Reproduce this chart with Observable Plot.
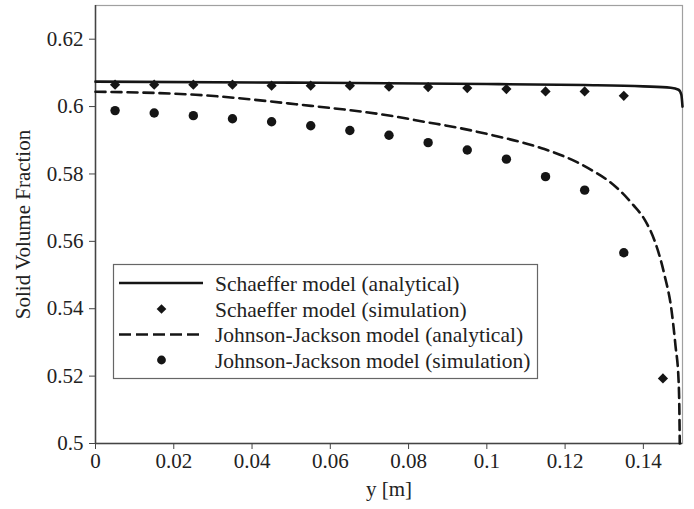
<!DOCTYPE html>
<html>
<head>
<meta charset="utf-8">
<script src="https://cdn.jsdelivr.net/npm/d3@7"></script>
<script src="https://cdn.jsdelivr.net/npm/@observablehq/plot@0.6"></script>
<style>
  html, body { margin: 0; padding: 0; background: #fff; }
  #chart { position: relative; width: 694px; height: 509px; }
  #chart svg, #chart svg text { font-family: "Liberation Serif", "Times New Roman", Times, "DejaVu Serif", serif !important; }
</style>
</head>
<body>
<div id="chart"></div>
<script>
// ---- data ----
const seriesNames = [
  "Schaeffer model (analytical)",
  "Schaeffer model (simulation)",
  "Johnson-Jackson model (analytical)",
  "Johnson-Jackson model (simulation)"
];

// Schaeffer analytical curve
const schAnX = [0, 0.05, 0.10, 0.125, 0.14, 0.147, 0.149, 0.1497, 0.15];
const schAnY = [0.6074, 0.6071, 0.6067, 0.6064, 0.6060, 0.6056, 0.6050, 0.6035, 0.6000];

// Schaeffer simulation (diamonds)
const schSimX = [0.005, 0.015, 0.025, 0.035, 0.045, 0.055, 0.065, 0.075, 0.085, 0.095, 0.105, 0.115, 0.125, 0.135, 0.145];
const schSimY = [0.6065, 0.6065, 0.6065, 0.6065, 0.6062, 0.6062, 0.6062, 0.6059, 0.6058, 0.6055, 0.6052, 0.6045, 0.6045, 0.6032, 0.5193];

// Johnson-Jackson analytical curve
const jjAnX = [0, 0.0256, 0.0512, 0.0768, 0.0840, 0.0927, 0.1011, 0.1095, 0.1147, 0.1185, 0.1229, 0.1270, 0.1308, 0.1344, 0.1374, 0.1404, 0.1428, 0.1454, 0.1472, 0.1482, 0.1490, 0.1492, 0.1493];
const jjAnY = [0.6044, 0.6035, 0.6007, 0.5970, 0.5955, 0.5937, 0.5916, 0.5892, 0.5874, 0.5858, 0.5836, 0.5810, 0.5782, 0.5746, 0.5708, 0.5663, 0.5604, 0.5500, 0.5395, 0.5291, 0.5187, 0.5098, 0.5000];

// Johnson-Jackson simulation (circles)
const jjSimX = [0.005, 0.015, 0.025, 0.035, 0.045, 0.055, 0.065, 0.075, 0.085, 0.095, 0.105, 0.115, 0.125, 0.135];
const jjSimY = [0.5988, 0.5981, 0.5973, 0.5964, 0.5955, 0.5943, 0.5929, 0.5915, 0.5893, 0.5871, 0.5844, 0.5792, 0.5752, 0.5566];

// ticks
const xTicks = [0, 0.02, 0.04, 0.06, 0.08, 0.10, 0.12, 0.14];
const xTickLabels = ["0", "0.02", "0.04", "0.06", "0.08", "0.1", "0.12", "0.14"];
const yTicks = [0.50, 0.52, 0.54, 0.56, 0.58, 0.60, 0.62];
const yTickLabels = ["0.5", "0.52", "0.54", "0.56", "0.58", "0.6", "0.62"];

const xLabel = "y [m]";
const yLabel = "Solid Volume Fraction";

// ---- build tables ----
const schAn = schAnX.map((x, i) => ({x, y: schAnY[i]}));
const schSim = schSimX.map((x, i) => ({x, y: schSimY[i]}));
const jjAn = jjAnX.map((x, i) => ({x, y: jjAnY[i]}));
const jjSim = jjSimX.map((x, i) => ({x, y: jjSimY[i]}));

const ink = "#151515";
const font = "Liberation Serif, Times New Roman, Times, DejaVu Serif, serif";

const plot = Plot.plot({
  width: 694,
  height: 509,
  marginLeft: 95,
  marginRight: 12,
  marginTop: 5,
  marginBottom: 66,
  style: {fontFamily: font, fontSize: "21px", color: "#222", background: "#fff"},
  x: {domain: [0, 0.15]},
  y: {domain: [0.5, 0.63]},
  marks: [
    Plot.frame({stroke: "#a0a0a0", strokeWidth: 1.2}),
    Plot.ruleX([0], {stroke: "#444", strokeWidth: 1.5}),
    Plot.ruleY([0.5], {stroke: "#444", strokeWidth: 1.5}),
    Plot.axisX({
      ticks: xTicks,
      tickFormat: (d, i) => xTickLabels[i],
      tickSize: 6,
      tickPadding: 4,
      stroke: "#444",
      fontFamily: font,
      label: xLabel,
      labelAnchor: "center",
      labelArrow: "none",
      labelOffset: 52
    }),
    Plot.axisY({
      ticks: yTicks,
      tickFormat: (d, i) => yTickLabels[i],
      tickSize: 6,
      tickPadding: 6,
      stroke: "#444",
      fontFamily: font,
      label: yLabel,
      labelAnchor: "center",
      labelArrow: "none",
      labelOffset: 80
    }),
    Plot.line(schAn, {x: "x", y: "y", stroke: ink, strokeWidth: 2.6, curve: "monotone-x"}),
    Plot.line(jjAn, {x: "x", y: "y", stroke: ink, strokeWidth: 2.6, strokeDasharray: "10,6", curve: "monotone-x"}),
    Plot.dot(schSim, {x: "x", y: "y", symbol: "diamond2", r: 4.6, fill: ink, stroke: "none"}),
    Plot.dot(jjSim, {x: "x", y: "y", symbol: "circle", r: 4.7, fill: ink, stroke: "none"})
  ]
});

document.getElementById("chart").appendChild(plot);

// ---- legend (inside the frame, lower left) ----
const svg = d3.select(plot);
const lg = svg.append("g")
  .attr("font-family", font).attr("font-size", 21.5)
  .attr("fill", "#222").attr("text-anchor", "start");
lg.append("rect")
  .attr("x", 113.5).attr("y", 264.5).attr("width", 424).attr("height", 114)
  .attr("fill", "#fff").attr("stroke", "#666").attr("stroke-width", 1.2);
const rowY = [283, 309, 334.5, 360];
const sx0 = 119, sx1 = 203, sxc = 161.5;
// sample 1: solid line
lg.append("line").attr("x1", sx0).attr("x2", sx1).attr("y1", rowY[0]).attr("y2", rowY[0])
  .attr("stroke", ink).attr("stroke-width", 2.6);
// sample 2: diamond
lg.append("path").attr("d", d3.symbol(d3.symbolDiamond2, 60)()).attr("transform", `translate(${sxc},${rowY[1]})`).attr("fill", ink);
// sample 3: dashed line
lg.append("line").attr("x1", sx0).attr("x2", sx1).attr("y1", rowY[2]).attr("y2", rowY[2])
  .attr("stroke", ink).attr("stroke-width", 2.6).attr("stroke-dasharray", "12,5");
// sample 4: circle
lg.append("circle").attr("cx", sxc).attr("cy", rowY[3]).attr("r", 4.4).attr("fill", ink);
seriesNames.forEach((name, i) => {
  lg.append("text").attr("x", 215).attr("y", rowY[i]).attr("dy", "0.35em").text(name);
});
</script>
</body>
</html>
